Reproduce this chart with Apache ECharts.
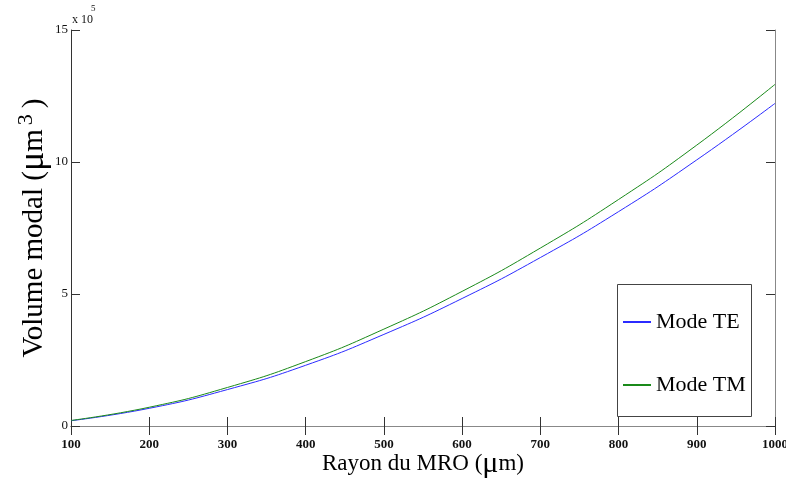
<!DOCTYPE html>
<html>
<head>
<meta charset="utf-8">
<script src="https://cdn.jsdelivr.net/npm/echarts@6/dist/echarts.min.js"></script>
<style>html,body{margin:0;padding:0;background:#fff}#c{width:786px;height:501px}</style>
</head>
<body>
<div id="c"></div>
<script>
// Rayon du MRO (µm)
var radius = [100, 200, 300, 400, 500, 600, 700, 800, 900, 1000];
// Volume modal (x 10^5 µm^3)
var modeTE = [0.20, 0.67, 1.38, 2.30, 3.47, 4.83, 6.38, 8.12, 10.08, 12.22];
var modeTM = [0.21, 0.71, 1.46, 2.44, 3.67, 5.10, 6.74, 8.58, 10.64, 12.94];
var seriesNames = ['Mode TE', 'Mode TM'];
var xTicks = [100, 200, 300, 400, 500, 600, 700, 800, 900, 1000];
var yTicks = [0, 5, 10, 15];

var serif = "'Liberation Serif', 'DejaVu Serif', serif";
var chart = echarts.init(document.getElementById('c'), null, {renderer: 'canvas'});

function pairs(xs, ys) { return xs.map(function (x, i) { return [x, ys[i]]; }); }

var tickCommon = {show: true, inside: true, length: 9, lineStyle: {color: '#333', width: 1}};
var tickLabel = {fontFamily: serif, fontSize: 13, color: '#111'};

chart.setOption({
  animation: false,
  backgroundColor: '#fff',
  grid: {left: 71, right: 11, top: 30, bottom: 75, containLabel: false, outerBoundsMode: 'none'},
  xAxis: [{
    type: 'value', min: xTicks[0], max: xTicks[xTicks.length - 1], interval: 100,
    position: 'bottom',
    name: '{a|Rayon du MRO (}{mu|μ}{a|m)}',
    nameLocation: 'middle', nameGap: 23, nameMoveOverlap: false,
    nameTextStyle: {rich: {
      a: {fontFamily: serif, fontSize: 23, color: '#000'},
      mu: {fontFamily: serif, fontSize: 30, color: '#000'}
    }},
    axisLine: {show: true, lineStyle: {color: '#333', width: 1}},
    axisTick: tickCommon,
    axisLabel: Object.assign({margin: 12, fontWeight: 'bold', formatter: function (v) { return String(v); }}, tickLabel),
    splitLine: {show: false}
  }, {
    type: 'value', min: xTicks[0], max: xTicks[xTicks.length - 1], interval: 100,
    position: 'top',
    axisLine: {show: true, lineStyle: {color: '#888', width: 1}},
    axisTick: tickCommon,
    axisLabel: {show: false},
    splitLine: {show: false}
  }],
  yAxis: [{
    type: 'value', min: yTicks[0], max: yTicks[yTicks.length - 1], interval: 5,
    position: 'left',
    name: '{a|Volume modal (}{mu|μ}{a|m}{sup|3}{a|)}',
    nameLocation: 'middle', nameGap: 18, nameRotate: 90, nameMoveOverlap: false,
    nameTextStyle: {rich: {
      a: {fontFamily: serif, fontSize: 29, color: '#000'},
      mu: {fontFamily: serif, fontSize: 36, color: '#000'},
      sup: {fontFamily: serif, fontSize: 22, color: '#000', verticalAlign: 'top', padding: [0, 6, 16, 4]}
    }},
    axisLine: {show: true, lineStyle: {color: '#333', width: 1}},
    axisTick: tickCommon,
    axisLabel: Object.assign({margin: 3}, tickLabel),
    splitLine: {show: false}
  }, {
    type: 'value', min: yTicks[0], max: yTicks[yTicks.length - 1], interval: 5,
    position: 'right',
    axisLine: {show: true, lineStyle: {color: '#888', width: 1}},
    axisTick: tickCommon,
    axisLabel: {show: false},
    splitLine: {show: false}
  }],
  legend: {
    orient: 'vertical',
    left: 617, top: 284,
    data: seriesNames,
    itemWidth: 28, itemHeight: 2, itemGap: 39,
    padding: [26, 6, 19, 5],
    borderWidth: 0,
    textStyle: {fontFamily: serif, fontSize: 22, color: '#000', lineHeight: 24}
  },
  graphic: [{
    type: 'rect', left: 617, top: 284, z: 0,
    shape: {width: 134, height: 132},
    style: {fill: '#fff', stroke: '#444', lineWidth: 1}
  }, {
    type: 'text', left: 72, top: 4,
    style: {
      text: '{s|5}\n{a|x 10}',
      rich: {
        a: {fontFamily: serif, fontSize: 12, fill: '#111', lineHeight: 14},
        s: {fontFamily: serif, fontSize: 9, fill: '#111', lineHeight: 8, padding: [0, 0, 0, 19]}
      }
    }
  }],
  series: [{
    name: seriesNames[0], type: 'line', smooth: true, symbol: 'none',
    data: pairs(radius, modeTE),
    lineStyle: {color: '#2b2bff', width: 1}, itemStyle: {color: '#2b2bff'}
  }, {
    name: seriesNames[1], type: 'line', smooth: true, symbol: 'none',
    data: pairs(radius, modeTM),
    lineStyle: {color: '#1a8a1a', width: 1}, itemStyle: {color: '#1a8a1a'}
  }]
});
</script>
</body>
</html>
